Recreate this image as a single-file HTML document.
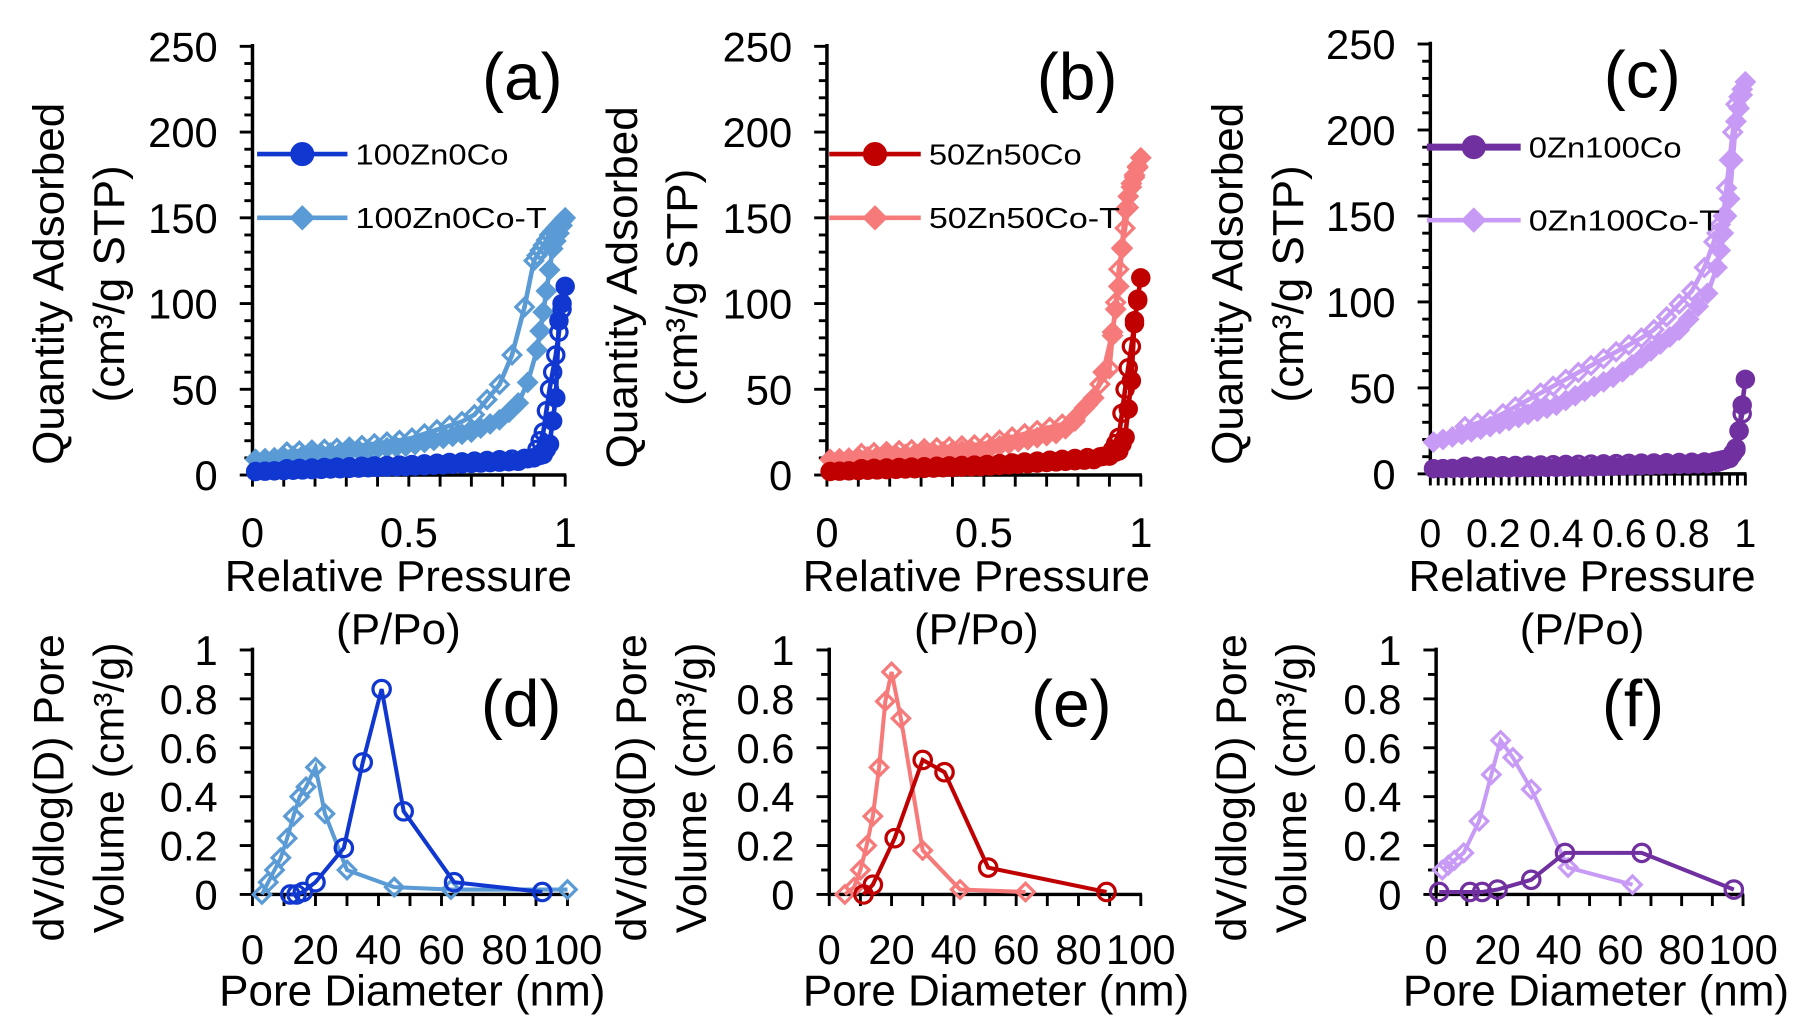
<!DOCTYPE html>
<html><head><meta charset="utf-8"><style>
html,body{margin:0;padding:0;background:#fff;width:1816px;height:1030px;overflow:hidden}
svg{display:block}
text{font-family:"Liberation Sans",Arial,sans-serif;fill:#000}
</style></head><body>
<svg id="s" width="1816" height="1030" viewBox="0 0 1568 889" preserveAspectRatio="none" xmlns="http://www.w3.org/2000/svg">
<rect width="1568" height="889" fill="#fff"/>
<g id="g"></g>
<g font-size="38">
<text x="45" y="245" text-anchor="middle" dominant-baseline="middle" transform="rotate(-90 45 245)">Quantity Adsorbed</text>
<text x="97" y="245" text-anchor="middle" dominant-baseline="middle" transform="rotate(-90 97 245)">(cm³/g STP)</text>
<text x="540" y="248" text-anchor="middle" dominant-baseline="middle" transform="rotate(-90 540 248)">Quantity Adsorbed</text>
<text x="592" y="248" text-anchor="middle" dominant-baseline="middle" transform="rotate(-90 592 248)">(cm³/g STP)</text>
<text x="1063" y="245" text-anchor="middle" dominant-baseline="middle" transform="rotate(-90 1063 245)">Quantity Adsorbed</text>
<text x="1115" y="245" text-anchor="middle" dominant-baseline="middle" transform="rotate(-90 1115 245)">(cm³/g STP)</text>
</g>
<g font-size="38" text-anchor="middle">
<text x="344" y="510">Relative Pressure</text>
<text x="344" y="556">(P/Po)</text>
<text x="843" y="510">Relative Pressure</text>
<text x="843" y="556">(P/Po)</text>
<text x="1366" y="510">Relative Pressure</text>
<text x="1366" y="556">(P/Po)</text>
<text x="356" y="868">Pore Diameter (nm)</text>
<text x="860" y="868">Pore Diameter (nm)</text>
<text x="1378" y="868">Pore Diameter (nm)</text>
</g>
<g font-size="37">
<text x="45" y="680" text-anchor="middle" dominant-baseline="middle" transform="rotate(-90 45 680)">dV/dlog(D)  Pore</text>
<text x="97" y="680" text-anchor="middle" dominant-baseline="middle" transform="rotate(-90 97 680)">Volume  (cm³/g)</text>
<text x="548" y="680" text-anchor="middle" dominant-baseline="middle" transform="rotate(-90 548 680)">dV/dlog(D)  Pore</text>
<text x="600" y="680" text-anchor="middle" dominant-baseline="middle" transform="rotate(-90 600 680)">Volume  (cm³/g)</text>
<text x="1066" y="680" text-anchor="middle" dominant-baseline="middle" transform="rotate(-90 1066 680)">dV/dlog(D)  Pore</text>
<text x="1118" y="680" text-anchor="middle" dominant-baseline="middle" transform="rotate(-90 1118 680)">Volume  (cm³/g)</text>
</g>
<g font-size="57" text-anchor="middle">
<text x="451" y="86">(a)</text>
<text x="930" y="86">(b)</text>
<text x="1418" y="84">(c)</text>
<text x="450" y="627">(d)</text>
<text x="925" y="627">(e)</text>
<text x="1410" y="627">(f)</text>
</g>
</svg>
<script>
(function(){
var g=document.getElementById('g');var NS='http://www.w3.org/2000/svg';
function el(t,a,txt){var e=document.createElementNS(NS,t);for(var k in a)e.setAttribute(k,a[k]);if(txt!==undefined)e.textContent=txt;g.appendChild(e);return e;}
function interp(pts,x){for(var i=0;i<pts.length-1;i++){var a=pts[i],b=pts[i+1];if((x>=a[0]&&x<=b[0])||(x<=a[0]&&x>=b[0])){var t=(b[0]==a[0])?0:(x-a[0])/(b[0]-a[0]);return a[1]+t*(b[1]-a[1]);}}return pts[pts.length-1][1];}
function axes(ax){
 var X0=ax.x0,X1=ax.x1,Y0=ax.y0,Y1=ax.y1;
 el('line',{x1:X0,y1:Y1-2,x2:X0,y2:Y0+1,stroke:'#000','stroke-width':3});
 el('line',{x1:X0-1,y1:Y0,x2:X1+1,y2:Y0,stroke:'#000','stroke-width':3});
 var n=Math.round((ax.ymax)/ax.ymin);
 for(var i=0;i<=n;i++){var v=i*ax.ymin;var y=Y0-(Y0-Y1)*v/ax.ymax;var maj=Math.abs(v/ax.ymaj-Math.round(v/ax.ymaj))<1e-6;
  el('line',{x1:X0-(maj?11:7),y1:y,x2:X0,y2:y,stroke:'#000','stroke-width':2.5});
  if(maj)el('text',{x:X0-30,y:y+13,'font-size':36,'text-anchor':'end'},ax.yfmt(v));}
 var m=Math.round(ax.xmax/ax.xmin);
 for(var j=0;j<=m;j++){var xv=j*ax.xmin;var x=X0+(X1-X0)*xv/ax.xmax;el('line',{x1:x,y1:Y0,x2:x,y2:Y0+10,stroke:'#000','stroke-width':2.5});}
 ax.xl.forEach(function(l){var x=X0+(X1-X0)*l[0]/ax.xmax;el('text',{x:x,y:ax.xly,'font-size':ax.xfs||36,'text-anchor':'middle'},l[1]);});
}
function mk(type,x,y,c,fill,r){
 if(type=='c')el('circle',{cx:x,cy:y,r:r,fill:fill?c:'none',stroke:c,'stroke-width':2.8});
 else el('polygon',{points:(x)+','+(y-r)+' '+(x+r)+','+y+' '+x+','+(y+r)+' '+(x-r)+','+y,fill:fill?c:'none',stroke:c,'stroke-width':2.8});
}
function series(ax,pts,c,type,fill,r,lw){
 var p=pts.map(function(q){return [ax.x0+(ax.x1-ax.x0)*q[0]/ax.xmax, ax.y0-(ax.y0-ax.y1)*q[1]/ax.ymax];});
 el('polyline',{points:p.map(function(q){return q.join(',')}).join(' '),fill:'none',stroke:c,'stroke-width':lw||3});
 p.forEach(function(q){mk(type,q[0],q[1],c,fill,r);});
}
function iso(ax,ads,des,c,type,r){
 var A=[],D=[];
 for(var p=0.01;p<=0.9;p+=0.03)A.push([p,interp(ads,p)]);
 [0.91,0.92,0.93,0.94,0.95,0.96,0.97,0.98,0.99,1.0].forEach(function(p){A.push([p,interp(ads,p)]);});
 [0.99,0.98,0.97,0.96,0.95,0.94,0.93,0.92,0.91,0.9].forEach(function(p){D.push([p,interp(des,p)]);});
 for(var p2=0.87;p2>=0.1;p2-=0.04)D.push([p2,interp(des,p2)]);
 series(ax,D,c,type,false,r,4);
 series(ax,A,c,type,true,r,4);
}
function legend(x1,x2,y,c,type,label,lw){
 el('line',{x1:x1,y1:y,x2:x2,y2:y,stroke:c,'stroke-width':lw||4});
 mk(type,(x1+x2)/2,y,c,true,9);
 el('text',{x:x2+7,y:y+9,'font-size':25,textLength:label.length*16.5,lengthAdjust:'spacingAndGlyphs',fill:'#333'},label);
}
var yf=function(v){return String(v)};
var pf=function(v){return v==0?'0':Math.abs(v-1)<1e-6?'1':v.toFixed(1)};
var TOPC={y0:410,y1:40,ymax:250,ymin:10,ymaj:50,xmax:1,xmin:0.1,yfmt:yf,xly:472};
function A(o){var r={};for(var k in TOPC)r[k]=TOPC[k];for(var k2 in o)r[k2]=o[k2];return r;}
var axA=A({x0:218,x1:488,xl:[[0,'0'],[0.5,'0.5'],[1,'1']]});
var axB=A({x0:714,x1:985,xl:[[0,'0'],[0.5,'0.5'],[1,'1']]});
var axC=A({x0:1235,x1:1507,y0:409,y1:38,xmin:0.025,xl:[[0,'0'],[0.2,'0.2'],[0.4,'0.4'],[0.6,'0.6'],[0.8,'0.8'],[1,'1']],xfs:34});
var BOTC={y0:772,y1:561,ymax:1,ymin:0.1,ymaj:0.2,xmax:100,xmin:10,yfmt:pf,xly:832};
function B(o){var r={};for(var k in BOTC)r[k]=BOTC[k];for(var k2 in o)r[k2]=o[k2];return r;}
var xlb=[[0,'0'],[20,'20'],[40,'40'],[60,'60'],[80,'80'],[100,'100']];
var axD=B({x0:218,x1:490,xl:xlb});
var axE=B({x0:716,x1:985,xl:xlb});
var axF=B({x0:1240,x1:1505,xl:xlb});
[axA,axB,axC,axD,axE,axF].forEach(axes);
var LB='#5b9bd5',DB='#1038d0',LR='#f77a7a',DR='#c00000',LP='#c79bf5',DP='#7030a0';
iso(axA,[[0,9],[0.2,12],[0.5,17],[0.7,25],[0.8,33],[0.85,42],[0.9,62],[0.93,95],[0.96,132],[1,150]],
 [[1,150],[0.95,140],[0.9,125],[0.85,80],[0.8,55],[0.7,33],[0.5,21],[0.3,16],[0,12]],LB,'d',7.5);
iso(axA,[[0,2],[0.5,5],[0.85,8],[0.93,12],[0.95,18],[0.97,45],[0.98,90],[1,110]],
 [[1,110],[0.97,70],[0.95,50],[0.93,25],[0.9,10],[0.5,6],[0,3]],DB,'c',7);
iso(axB,[[0,9],[0.5,15],[0.75,25],[0.85,45],[0.9,70],[0.93,110],[0.95,155],[0.97,170],[1,185]],
 [[1,185],[0.97,168],[0.93,120],[0.9,62],[0.8,32],[0.5,18],[0,11]],LR,'d',7.5);
iso(axB,[[0,2],[0.5,5],[0.85,9],[0.93,14],[0.95,22],[0.97,55],[0.98,90],[1,115]],
 [[1,115],[0.97,75],[0.95,50],[0.93,22],[0.9,11],[0.5,6],[0,3]],DR,'c',7);
iso(axC,[[0,18],[0.2,28],[0.4,40],[0.6,58],[0.8,85],[0.9,110],[0.95,160],[0.97,205],[1,228]],
 [[1,228],[0.97,215],[0.93,150],[0.85,110],[0.7,82],[0.5,62],[0.4,52],[0.2,32],[0,22]],LP,'d',7.5);
iso(axC,[[0,3],[0.5,4],[0.9,6],[0.95,9],[0.97,14],[0.98,25],[0.99,40],[1,55]],
 [[1,55],[0.99,35],[0.97,15],[0.95,9],[0.9,7],[0,4]],DP,'c',7);
series(axD,[[3,0],[5,0.05],[7,0.1],[9,0.15],[11,0.23],[13,0.32],[15,0.4],[17,0.44],[20,0.52],[23,0.33],[30,0.1],[45,0.03],[63,0.02],[100,0.02]],LB,'d',false,7.5,3.5);
series(axD,[[12,0],[14,0],[16,0.01],[20,0.05],[29,0.19],[35,0.54],[41,0.84],[48,0.34],[64,0.05],[92,0.01]],DB,'c',false,7.5,3.5);
series(axE,[[5,0],[8,0.03],[10,0.1],[12,0.2],[14,0.32],[16,0.52],[18,0.79],[20,0.91],[23,0.72],[30,0.18],[42,0.02],[63,0.01]],LR,'d',false,7.5,3.5);
series(axE,[[11,0],[14,0.04],[21,0.23],[30,0.55],[37,0.5],[51,0.11],[89,0.01]],DR,'c',false,7.5,3.5);
series(axF,[[2,0.1],[4,0.12],[6,0.14],[9,0.17],[14,0.3],[18,0.49],[21,0.63],[25,0.56],[31,0.43],[43,0.11],[64,0.04]],LP,'d',false,7.5,3.5);
series(axF,[[1,0.01],[11,0.01],[15,0.01],[20,0.02],[31,0.06],[42,0.17],[67,0.17],[97,0.02]],DP,'c',false,7.5,3.5);
legend(222,300,133,DB,'c','100Zn0Co');
legend(222,300,188,LB,'d','100Zn0Co-T');
legend(716,795,133,DR,'c','50Zn50Co');
legend(716,795,188,LR,'d','50Zn50Co-T');
legend(1232,1313,127,DP,'c','0Zn100Co',6);
legend(1232,1313,190,LP,'d','0Zn100Co-T');
})();
</script>
</body></html>
